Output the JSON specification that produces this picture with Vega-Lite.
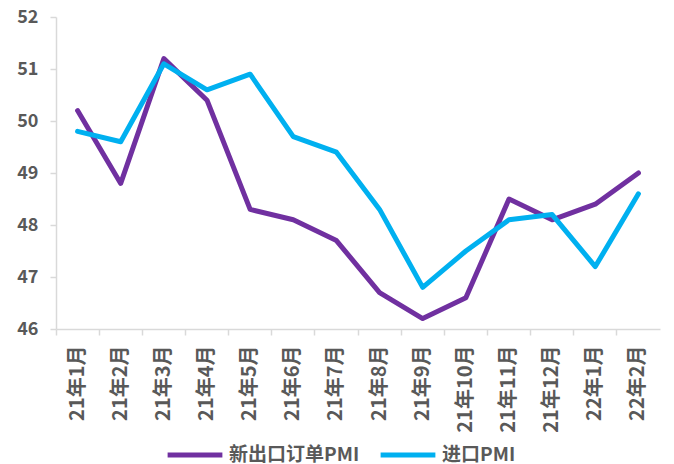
{
  "$schema": "https://vega.github.io/schema/vega-lite/v6.json",
  "width": 604,
  "height": 312,
  "autosize": "none",
  "padding": {"left": 56, "top": 17, "right": 14, "bottom": 135},
  "background": "white",
  "config": {
    "view": {"stroke": null},
    "font": "Noto Sans CJK SC"
  },
  "data": {
    "values": [
      {"m": "21年1月", "s": "新出口订单PMI", "v": 50.2},
      {"m": "21年2月", "s": "新出口订单PMI", "v": 48.8},
      {"m": "21年3月", "s": "新出口订单PMI", "v": 51.2},
      {"m": "21年4月", "s": "新出口订单PMI", "v": 50.4},
      {"m": "21年5月", "s": "新出口订单PMI", "v": 48.3},
      {"m": "21年6月", "s": "新出口订单PMI", "v": 48.1},
      {"m": "21年7月", "s": "新出口订单PMI", "v": 47.7},
      {"m": "21年8月", "s": "新出口订单PMI", "v": 46.7},
      {"m": "21年9月", "s": "新出口订单PMI", "v": 46.2},
      {"m": "21年10月", "s": "新出口订单PMI", "v": 46.6},
      {"m": "21年11月", "s": "新出口订单PMI", "v": 48.5},
      {"m": "21年12月", "s": "新出口订单PMI", "v": 48.1},
      {"m": "22年1月", "s": "新出口订单PMI", "v": 48.4},
      {"m": "22年2月", "s": "新出口订单PMI", "v": 49.0},
      {"m": "21年1月", "s": "进口PMI", "v": 49.8},
      {"m": "21年2月", "s": "进口PMI", "v": 49.6},
      {"m": "21年3月", "s": "进口PMI", "v": 51.1},
      {"m": "21年4月", "s": "进口PMI", "v": 50.6},
      {"m": "21年5月", "s": "进口PMI", "v": 50.9},
      {"m": "21年6月", "s": "进口PMI", "v": 49.7},
      {"m": "21年7月", "s": "进口PMI", "v": 49.4},
      {"m": "21年8月", "s": "进口PMI", "v": 48.3},
      {"m": "21年9月", "s": "进口PMI", "v": 46.8},
      {"m": "21年10月", "s": "进口PMI", "v": 47.5},
      {"m": "21年11月", "s": "进口PMI", "v": 48.1},
      {"m": "21年12月", "s": "进口PMI", "v": 48.2},
      {"m": "22年1月", "s": "进口PMI", "v": 47.2},
      {"m": "22年2月", "s": "进口PMI", "v": 48.6}
    ]
  },
  "mark": {"type": "line", "strokeWidth": 5, "strokeCap": "round", "strokeJoin": "round"},
  "encoding": {
    "x": {
      "field": "m",
      "type": "ordinal",
      "sort": null,
      "scale": {"type": "band", "paddingInner": 0, "paddingOuter": 0},
      "axis": {
        "title": null,
        "bandPosition": 0,
        "labelAngle": -90,
        "labelAlign": "right",
        "labelBaseline": "middle",
        "labelFontSize": 20,
        "labelFontWeight": "bold",
        "labelColor": "#595959",
        "labelPadding": 10,
        "domainColor": "#d9d9d9",
        "domainWidth": 1.5,
        "tickColor": "#d9d9d9",
        "tickWidth": 1.5,
        "tickSize": 6,
        "grid": false
      }
    },
    "y": {
      "field": "v",
      "type": "quantitative",
      "scale": {"domain": [46, 52], "nice": false, "zero": false},
      "axis": {
        "title": null,
        "values": [46, 47, 48, 49, 50, 51, 52],
        "format": "d",
        "grid": false,
        "labelFontSize": 18,
        "labelFontWeight": "bold",
        "labelColor": "#595959",
        "labelPadding": 12,
        "domainColor": "#d9d9d9",
        "domainWidth": 1.5,
        "tickColor": "#d9d9d9",
        "tickWidth": 1.5,
        "tickSize": 6
      }
    },
    "color": {
      "field": "s",
      "type": "nominal",
      "sort": ["新出口订单PMI", "进口PMI"],
      "scale": {"domain": ["新出口订单PMI", "进口PMI"], "range": ["#7030A0", "#00B0F0"]},
      "legend": {
        "title": null,
        "orient": "none",
        "direction": "horizontal",
        "legendX": 109,
        "legendY": 408,
        "symbolType": "stroke",
        "symbolSize": 3000,
        "symbolStrokeWidth": 5,
        "labelFontSize": 19,
        "labelFontWeight": "bold",
        "labelColor": "#595959",
        "columnSpacing": 32,
        "labelOffset": 4
      }
    }
  }
}
